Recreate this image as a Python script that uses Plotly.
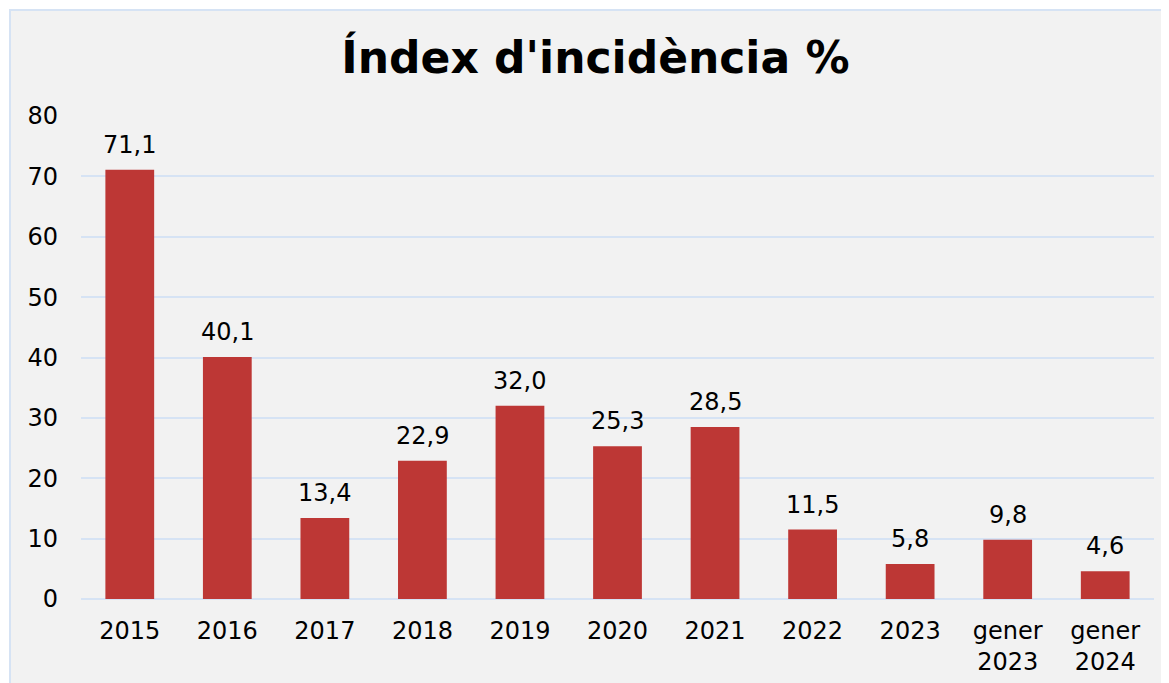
import plotly.graph_objects as go

categories = ["2015", "2016", "2017", "2018", "2019", "2020", "2021", "2022", "2023",
              "gener<br>2023", "gener<br>2024"]
values = [71.1, 40.1, 13.4, 22.9, 32.0, 25.3, 28.5, 11.5, 5.8, 9.8, 4.6]
labels = [f"{v:.1f}".replace(".", ",") for v in values]
y_ticks = [0, 10, 20, 30, 40, 50, 60, 70, 80]
positions = list(range(len(categories)))

# page has an 8px body margin; size the figure to compensate
W, H = 1161, 675
ML, MR, MT, MB = 73, 15, 108, 84
PW, PH = W - ML - MR, H - MT - MB

FONT = "DejaVu Sans, Verdana, sans-serif"

fig = go.Figure()
fig.add_trace(go.Bar(
    x=positions, y=values, width=0.5,
    marker=dict(color="#bd3735", line=dict(width=0)),
    hovertext=categories, hoverinfo="text+y",
))

for p, v, t in zip(positions, values, labels):
    fig.add_annotation(x=p, y=v, text=t, showarrow=False, yanchor="bottom",
                       yshift=9, font=dict(family=FONT, size=24, color="#000000"))

# outer frame (light blue border, grey fill)
fig.add_shape(type="rect", xref="paper", yref="paper", layer="below",
              x0=(2 - ML) / PW, x1=(W + 20 - ML) / PW,
              y0=-(MB + 20) / PH, y1=1 + (MT - 2) / PH,
              fillcolor="#f2f2f2", line=dict(color="#d6e3f4", width=2))

fig.update_layout(
    width=W, height=H,
    margin=dict(l=ML, r=MR, t=MT, b=MB, autoexpand=False),
    paper_bgcolor="#ffffff",
    plot_bgcolor="rgba(0,0,0,0)",
    showlegend=False,
    font=dict(family=FONT, size=24, color="#000000"),
    title=dict(text="<b>Índex d'incidència %</b>", x=0.506, xanchor="center",
               y=1 - 50 / H, yanchor="middle", yref="container",
               font=dict(family=FONT, size=44, color="#000000")),
    xaxis=dict(range=[-0.5, len(categories) - 0.5], tickvals=positions, ticktext=categories,
               showgrid=False, showline=False, zeroline=False, automargin=False,
               ticks="outside", ticklen=10, tickcolor="rgba(0,0,0,0)",
               tickfont=dict(size=24)),
    yaxis=dict(range=[0, 80], tickvals=y_ticks, showgrid=True, gridcolor="#d6e3f4",
               gridwidth=2, zeroline=True, zerolinecolor="#d6e3f4", zerolinewidth=2,
               showline=False, ticks="", ticklabelstandoff=22, automargin=False,
               tickfont=dict(size=24)),
)

fig.write_html("out.html")
